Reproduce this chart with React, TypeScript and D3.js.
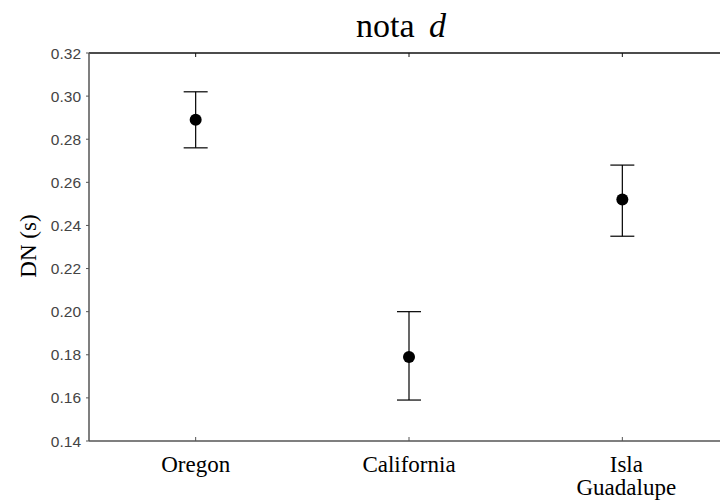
import React from 'react';
import * as d3 from 'd3';

const sites = ['Oregon', 'California', 'Isla Guadalupe'];
const means = [0.289, 0.179, 0.252];
const upper = [0.302, 0.2, 0.268];
const lower = [0.276, 0.159, 0.235];
const yTicks = [0.14, 0.16, 0.18, 0.2, 0.22, 0.24, 0.26, 0.28, 0.3, 0.32];

const W = 720;
const H = 501;
const left = 89;
const top = 53;
const bottom = 441;
const right = 729; // frame runs past the picture edge

const App = () => {
  const x = d3.scalePoint().domain(sites).range([left, right]).padding(0.5);
  const y = d3.scaleLinear().domain([0.14, 0.32]).range([bottom, top]);
  const axisColor = '#555';

  return (
    <svg width={W} height={H} style={{ position: 'absolute', left: 0, top: 0, background: '#fff' }}>
      <text x={401} y={37} textAnchor="middle" fontFamily="Liberation Serif" fontSize={34} fill="#000">
        nota <tspan fontStyle="italic" dx={6}>d</tspan>
      </text>

      {/* frame */}
      <line x1={left} x2={W} y1={top} y2={top} stroke="#111" strokeWidth={1.3} />
      <line x1={left} x2={left} y1={top} y2={bottom} stroke={axisColor} strokeWidth={1.5} />
      <line x1={left} x2={W} y1={bottom} y2={bottom} stroke={axisColor} strokeWidth={1.5} />

      {/* y ticks */}
      {yTicks.map((t) => (
        <g key={t}>
          <line x1={left - 3} x2={left} y1={y(t)} y2={y(t)} stroke={axisColor} />
          <text x={left - 8} y={y(t)} dy="0.36em" textAnchor="end" fontFamily="Liberation Sans" fontSize={15.5} fill="#444">
            {t.toFixed(2)}
          </text>
        </g>
      ))}

      <text transform={`translate(36,246) rotate(-90)`} textAnchor="middle" fontFamily="Liberation Serif" fontSize={23} fill="#000">
        DN (s)
      </text>

      {/* x ticks and labels */}
      {sites.map((s) => {
        const cx = x(s) as number;
        const parts = s === 'Isla Guadalupe' ? ['Isla', 'Guadalupe'] : [s];
        return (
          <g key={s}>
            <line x1={cx} x2={cx} y1={top} y2={top + 4} stroke="#111" />
            <line x1={cx} x2={cx} y1={bottom} y2={bottom - 4} stroke={axisColor} />
            {parts.map((p, i) => (
              <text key={p} x={cx + (parts.length > 1 ? 4 : 0)} y={472 + i * 23} textAnchor="middle" fontFamily="Liberation Serif" fontSize={23} fill="#000">
                {p}
              </text>
            ))}
          </g>
        );
      })}

      {/* error bars */}
      {sites.map((s, i) => {
        const cx = x(s) as number;
        return (
          <g key={s} stroke="#000" strokeWidth={1.2}>
            <line x1={cx} x2={cx} y1={y(upper[i])} y2={y(lower[i])} />
            <line x1={cx - 12} x2={cx + 12} y1={y(upper[i])} y2={y(upper[i])} />
            <line x1={cx - 12} x2={cx + 12} y1={y(lower[i])} y2={y(lower[i])} />
            <circle cx={cx} cy={y(means[i])} r={6} fill="#000" stroke="none" />
          </g>
        );
      })}
    </svg>
  );
};

export default App;
